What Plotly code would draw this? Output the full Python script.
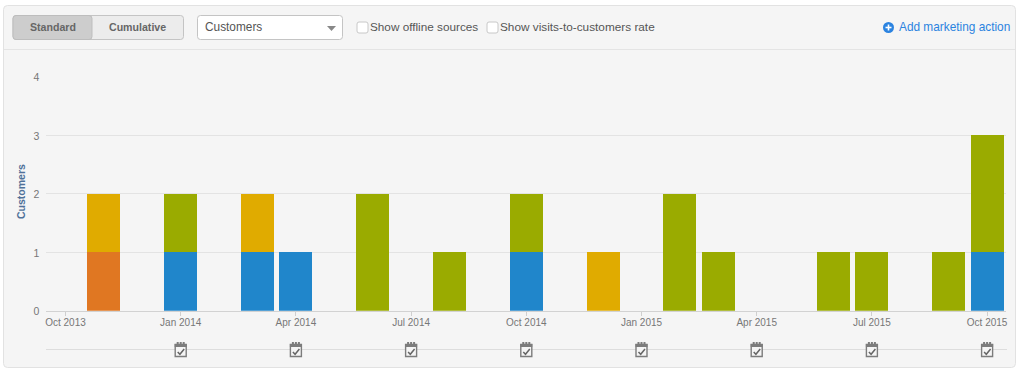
import plotly.graph_objects as go

W, H = 1024, 374
months = ["Oct 2013","Nov 2013","Dec 2013","Jan 2014","Feb 2014","Mar 2014","Apr 2014","May 2014","Jun 2014",
          "Jul 2014","Aug 2014","Sep 2014","Oct 2014","Nov 2014","Dec 2014","Jan 2015","Feb 2015","Mar 2015",
          "Apr 2015","May 2015","Jun 2015","Jul 2015","Aug 2015","Sep 2015","Oct 2015"]
tick_months = months[::3]
action_months = months[3::3]
blue   = [0,0,0,1,0,1,1,0,0,0,0,0,1,0,0,0,0,0,0,0,0,0,0,0,1]
orange = [0,1,0,0,0,0,0,0,0,0,0,0,0,0,0,0,0,0,0,0,0,0,0,0,0]
green  = [0,0,0,1,0,0,0,0,2,0,1,0,1,0,0,0,2,1,0,0,1,1,0,1,2]
yellow = [0,1,0,0,0,1,0,0,0,0,0,0,0,0,1,0,0,0,0,0,0,0,0,0,0]

FONT = "Liberation Sans, Arial, sans-serif"
px = lambda x: x / W
py = lambda y: 1 - y / H

fig = go.Figure()
for name, vals, col in [("Blue", blue, "#2086cb"), ("Orange", orange, "#e07722"),
                        ("Green", green, "#9aab00"), ("Yellow", yellow, "#e0ab00")]:
    fig.add_bar(x=months, y=vals, name=name, marker=dict(color=col, line_width=0))

shapes, ann = [], []

def rrect(x0, y0, x1, y1, r, fill, line, lw=1, layer="below"):
    X = lambda v: px(v); Y = lambda v: py(v)
    p = (f"M {X(x0+r)} {Y(y0)} L {X(x1-r)} {Y(y0)} Q {X(x1)} {Y(y0)} {X(x1)} {Y(y0+r)} "
         f"L {X(x1)} {Y(y1-r)} Q {X(x1)} {Y(y1)} {X(x1-r)} {Y(y1)} L {X(x0+r)} {Y(y1)} "
         f"Q {X(x0)} {Y(y1)} {X(x0)} {Y(y1-r)} L {X(x0)} {Y(y0+r)} Q {X(x0)} {Y(y0)} {X(x0+r)} {Y(y0)} Z")
    shapes.append(dict(type="path", path=p, xref="paper", yref="paper", fillcolor=fill,
                       line=dict(color=line, width=lw), layer=layer))

def rect(x0, y0, x1, y1, fill, line=None, layer="below"):
    shapes.append(dict(type="rect", xref="paper", yref="paper", x0=px(x0), x1=px(x1), y0=py(y1), y1=py(y0),
                       fillcolor=fill, line=dict(color=line or fill, width=1 if line else 0), layer=layer))

def text(x, y, s, size=11.85, color="#555", anchor="left", bold=False, angle=0):
    ann.append(dict(x=px(x), y=py(y), xref="paper", yref="paper", text=f"<b>{s}</b>" if bold else s,
                    showarrow=False, xanchor=anchor, yanchor="middle", textangle=angle, borderpad=0, borderwidth=0,
                    font=dict(family=FONT, size=size, color=color)))

# Card and toolbar
rrect(3.5, 5.5, 1015.5, 367.5, 4, "#f5f5f5", "#e2e2e2")
shapes.append(dict(type="line", xref="paper", yref="paper", x0=px(4), x1=px(1015), y0=py(49.5), y1=py(49.5),
                   line=dict(color="#e4e4e4", width=1), layer="below"))
rrect(13, 15.5, 183.5, 39.5, 3, "#ececec", "#c4c4c4")
rrect(13, 15.5, 92, 39.5, 3, "#cdcdcd", "#bdbdbd")
text(53, 27.5, "Standard", 10.6, "#666", "center", True)
text(137.5, 27.5, "Cumulative", 10.6, "#666", "center", True)
rrect(197.5, 15.5, 342.5, 39.5, 3, "#ffffff", "#c4c4c4")
text(205, 27.5, "Customers")
shapes.append(dict(type="path", xref="paper", yref="paper", fillcolor="#888", line=dict(width=0),
                   path=f"M {px(327)} {py(26)} L {px(336)} {py(26)} L {px(331.5)} {py(31)} Z"))
rrect(357, 22, 368, 33, 2, "#ffffff", "#c8c8c8")
text(369.5, 27, "Show offline sources", 11.75)
rrect(487, 22, 498, 33, 2, "#ffffff", "#c8c8c8")
text(500, 27, "Show visits-to-customers rate", 11.8)
# Add action icon and link
shapes.append(dict(type="circle", xref="paper", yref="paper", x0=px(883), x1=px(894), y0=py(33), y1=py(22),
                   fillcolor="#2b83e0", line_width=0))
rect(885.5, 26.7, 891.5, 28.3, "#ffffff", layer="above")
rect(887.7, 24.5, 889.3, 30.5, "#ffffff", layer="above")
text(899, 27.5, "Add marketing action", 11.85, "#2b83e0")

# Marketing action strip
shapes.append(dict(type="line", xref="paper", yref="paper", x0=px(46), x1=px(1007), y0=py(349.5), y1=py(349.5),
                   line=dict(color="#dddddd", width=1), layer="below"))
for m in action_months:
    i = months.index(m)
    common = dict(xref="x", yref="paper", xsizemode="pixel", ysizemode="pixel", xanchor=i, yanchor=py(349.5), layer="above")
    shapes.append(dict(type="rect", x0=-5.5, x1=5.5, y0=-7, y1=5, fillcolor="#f5f5f5",
                       line=dict(color="#7c7c7c", width=1.4), **common))
    shapes.append(dict(type="rect", x0=-6, x1=6, y0=2.5, y1=5.5, fillcolor="#7c7c7c", line_width=0, **common))
    for dx in (-4, -1, 2):
        shapes.append(dict(type="rect", x0=dx, x1=dx + 2, y0=5.5, y1=7.5, fillcolor="#7c7c7c", line_width=0, **common))
    shapes.append(dict(type="path", path="M -3 -2.5 L -0.8 -4.8 L 3.5 0.5", fillcolor="rgba(0,0,0,0)",
                       line=dict(color="#666", width=1.5), **common))

text(21, 192, "Customers", 10.5, "#4f7199", "center", True, -90)

fig.update_layout(
    width=W, height=H, autosize=False, barmode="stack", bargap=0.14, showlegend=False,
    margin=dict(l=0, r=0, t=0, b=0), paper_bgcolor="#ffffff", plot_bgcolor="rgba(0,0,0,0)",
    shapes=shapes, annotations=ann, font=dict(family=FONT),
    xaxis=dict(domain=[px(46.3), px(1006.3)], type="category", categoryorder="array", categoryarray=months,
               range=[-0.5, 24.5], tickmode="array", tickvals=tick_months, ticktext=tick_months,
               tickangle=0, ticks="outside", ticklen=4, tickcolor="#cfcfcf", tickwidth=1, automargin=False,
               ticklabelstandoff=-2, tickfont=dict(family=FONT, size=10, color="#777"), showgrid=False,
               showline=True, linecolor="#d2d2d2", linewidth=1, zeroline=False, fixedrange=True),
    yaxis=dict(domain=[py(310.8), py(76.8)], range=[0, 4], tickmode="array", tickvals=[0,1,2,3,4], automargin=False,
               ticks="", ticklabelstandoff=6, ticklabelshift=1, tickfont=dict(family=FONT, size=10.5, color="#777"),
               gridcolor="#e3e3e3", gridwidth=1, zeroline=False, showline=False, fixedrange=True),
)
fig.write_html("out.html", config={"displayModeBar": False},
               post_script="document.body.style.margin='0';document.body.style.overflow='hidden';")
